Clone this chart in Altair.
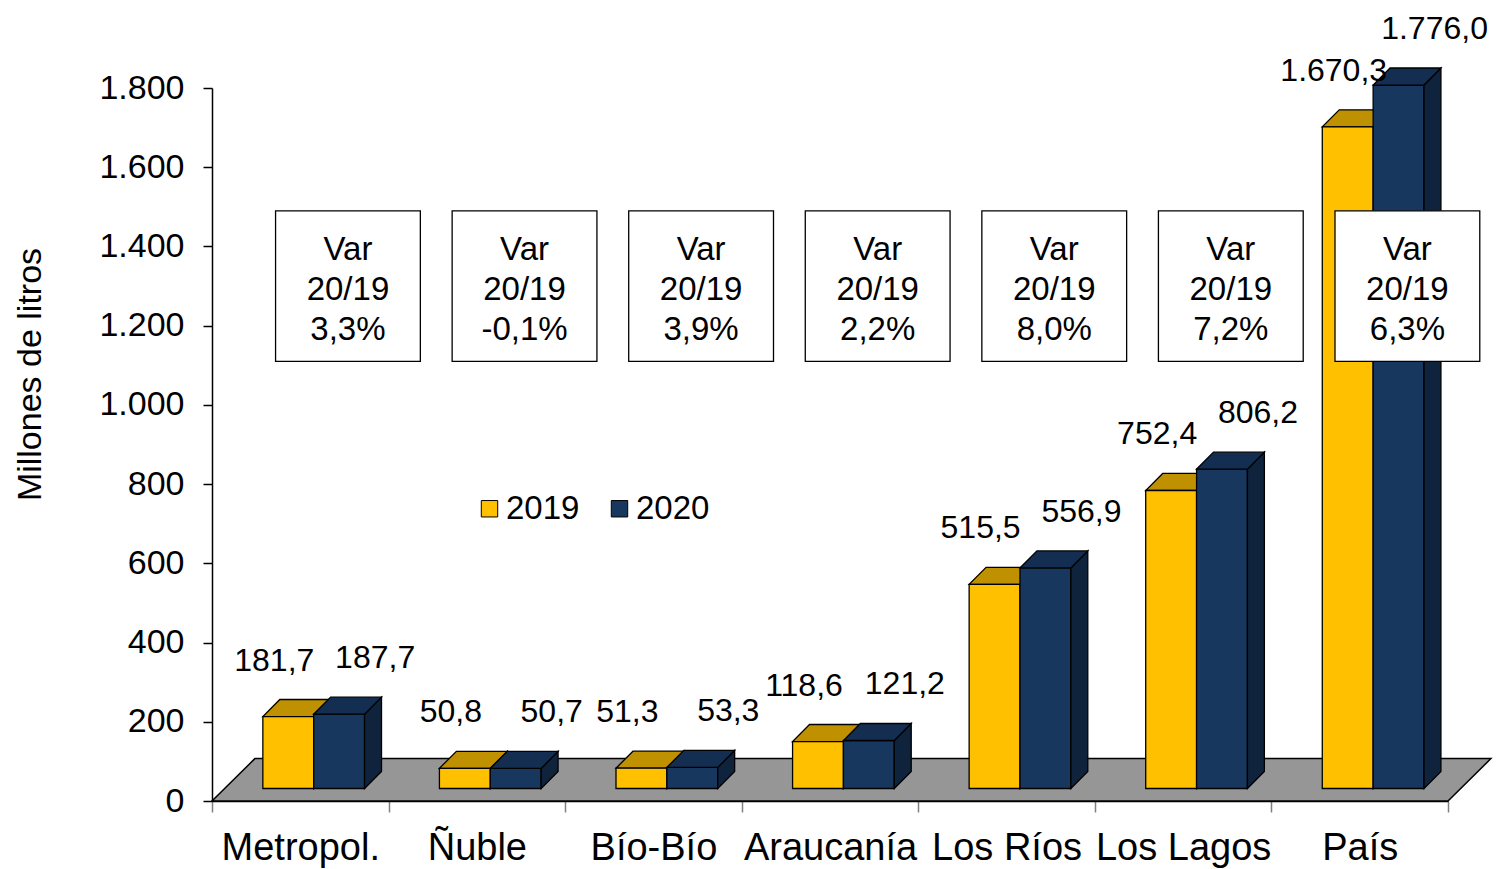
import json
import altair as alt
import pandas as pd

# ---------------- data ----------------
categories = ["Metropol.", "Ñuble", "Bío-Bío", "Araucanía", "Los Ríos", "Los Lagos", "País"]
values_2019 = [181.7, 50.8, 51.3, 118.6, 515.5, 752.4, 1670.3]
values_2020 = [187.7, 50.7, 53.3, 121.2, 556.9, 806.2, 1776.0]
var_20_19 = [3.3, -0.1, 3.9, 2.2, 8.0, 7.2, 6.3]
series = ["2019", "2020"]
y_ticks = [0, 200, 400, 600, 800, 1000, 1200, 1400, 1600, 1800]

# ---------------- style ----------------
FONT = "Liberation Sans"
YEL, YEL_TOP = "#FFC000", "#BF9000"
NAVY, NAVY_TOP, NAVY_SIDE = "#17375E", "#132E50", "#0F233D"
FLOOR = "#969696"

# pseudo-3D geometry, in data units
BAR_START = 0.288
BAR_W = 0.288
DEPTH_X = 0.096
DEPTH_Y = 43
BASE = 31.5
FLOOR_DX = 0.243
FLOOR_DY = 107
BOX_OFF, BOX_W, BOX_Y0, BOX_Y1, BOX_TXT_Y = 0.77, 0.82, 1110, 1490, 1391

n = len(categories)
W, H = 1236, 713


def es_num(v):
    s = f"{v:,.1f}"
    return s.replace(",", "_").replace(".", ",").replace("_", ".")


front, top_face, side_face, labels = [], [], [], []
for i, cat in enumerate(categories):
    for s, (ser, vals) in enumerate(zip(series, [values_2019, values_2020])):
        v = vals[i]
        x0 = i + BAR_START + s * BAR_W
        x1 = x0 + BAR_W
        t = BASE + v
        face = f"{i}-{ser}"
        front.append(dict(series=ser, x=x0, x2=x1, y=BASE, y2=t))
        for xx, ya, yb in [(x0, t, t), (x0 + DEPTH_X, t, t + DEPTH_Y),
                           (x1, t, t + DEPTH_Y), (x1 + DEPTH_X, t + DEPTH_Y, t + DEPTH_Y)]:
            top_face.append(dict(face=face, series=ser, x=xx, y=ya, y2=yb))
        for xx, ya, yb in [(x1, BASE, t), (x1 + DEPTH_X, BASE + DEPTH_Y, t + DEPTH_Y)]:
            side_face.append(dict(face=face, series=ser, x=xx, y=ya, y2=yb))
        labels.append(dict(series=ser, x=(x0 + x1) / 2, y=t + DEPTH_Y, text=es_num(v)))

front_df = pd.DataFrame(front)
top_df = pd.DataFrame(top_face)
side_df = pd.DataFrame(side_face)
label_df = pd.DataFrame(labels)
floor_df = pd.DataFrame(dict(x=[0, FLOOR_DX, n, n + FLOOR_DX],
                             y=[0, 0, 0, FLOOR_DY],
                             y2=[0, FLOOR_DY, FLOOR_DY, FLOOR_DY]))
box_df = pd.DataFrame(dict(
    x=[i + BOX_OFF - BOX_W / 2 for i in range(n)],
    x2=[i + BOX_OFF + BOX_W / 2 for i in range(n)],
    xc=[i + BOX_OFF for i in range(n)],
    y=[BOX_Y0] * n, y2=[BOX_Y1] * n, yt=[BOX_TXT_Y] * n,
    text=["Var\n20/19\n" + f"{v:.1f}".replace(".", ",") + "%" for v in var_20_19],
))

# ---------------- encodings ----------------
x_label_expr = f"datum.value < {n} ? {json.dumps(categories)}[datum.value] : ''"
x_axis = alt.Axis(values=list(range(n + 1)), labelExpr=x_label_expr, labelOffset=W / n / 2,
                  title=None, grid=False, labelFlush=False, labelOverlap=False,
                  labelFont=FONT, labelFontSize=38, labelColor="black", labelPadding=17,
                  tickColor="#808080", tickSize=11, tickWidth=1.5,
                  domainColor="black", domainWidth=1.5)
y_axis = alt.Axis(values=y_ticks, labelExpr="replace(format(datum.value, ','), ',', '.')",
                  grid=False, labelFlush=False, labelOverlap=False,
                  labelFont=FONT, labelFontSize=34, labelColor="black", labelPadding=19,
                  tickColor="black", tickSize=9, tickWidth=1.5,
                  domainColor="black", domainWidth=1.5,
                  title="Millones de litros", titleFont=FONT, titleFontSize=34,
                  titleFontWeight="normal", titleColor="black", titleAngle=270,
                  titleAlign="center", titleBaseline="middle", titleX=-182, titleY=286)
x_scale = alt.Scale(domain=[0, n], nice=False, zero=False)
y_scale = alt.Scale(domain=[0, 1800], nice=False, zero=True)


def X(f="x"):
    return alt.X(f"{f}:Q", scale=x_scale, axis=x_axis)


def Y(f="y"):
    return alt.Y(f"{f}:Q", scale=y_scale, axis=y_axis, stack=None)


floor = alt.Chart(floor_df).mark_area(fill=FLOOR, stroke="black", strokeWidth=1.5,
                                      orient="vertical").encode(
    x=X(), y=Y(), y2="y2:Q")


def face_layer(df, ser, color):
    return alt.Chart(df[df.series == ser]).mark_area(
        fill=color, stroke="black", strokeWidth=1.3, orient="vertical").encode(
        x=X(), y=Y(), y2="y2:Q", detail="face:N")


side19 = face_layer(side_df, "2019", YEL_TOP)
top19 = face_layer(top_df, "2019", YEL_TOP)
side20 = face_layer(side_df, "2020", NAVY_SIDE)
top20 = face_layer(top_df, "2020", NAVY_TOP)

fronts = alt.Chart(front_df).mark_rect(stroke="black", strokeWidth=1.3).encode(
    x=X(), x2="x2:Q", y=Y(), y2="y2:Q",
    fill=alt.Fill("series:N", scale=alt.Scale(domain=series, range=[YEL, NAVY]),
                  legend=alt.Legend(title=None, orient="none", legendX=261, legendY=404,
                                    direction="horizontal", symbolType="square",
                                    symbolSize=270, symbolStrokeColor="black",
                                    symbolStrokeWidth=1, labelFont=FONT, labelFontSize=33,
                                    labelColor="black", labelOffset=0, columnPadding=23,
                                    padding=0)))


def label_layer(ser, dx):
    return alt.Chart(label_df[label_df.series == ser]).mark_text(
        font=FONT, fontSize=32, color="black", align="center", baseline="middle",
        dx=dx, dy=-39).encode(x=X(), y=Y(), text="text:N")


lab19 = label_layer("2019", -14)
lab20 = label_layer("2020", 36)

boxes = alt.Chart(box_df).mark_rect(fill="white", stroke="black", strokeWidth=1.3).encode(
    x=X(), x2="x2:Q", y=Y(), y2="y2:Q")
box_text = alt.Chart(box_df).mark_text(
    font=FONT, fontSize=33, color="black", align="center", baseline="middle",
    lineBreak="\n", lineHeight=40).encode(x=X("xc"), y=Y("yt"), text="text:N")

chart = alt.layer(floor, side19, top19, fronts, side20, top20, lab19, lab20, boxes, box_text).properties(
    width=W, height=H,
    padding={"left": 212, "top": 88, "right": 1503 - 212 - W, "bottom": 869 - 88 - H},
    autosize=alt.AutoSizeParams(type="none"),
    background="white",
).configure_view(stroke=None)

chart.save("out.html", embed_options={"renderer": "svg", "actions": False})
